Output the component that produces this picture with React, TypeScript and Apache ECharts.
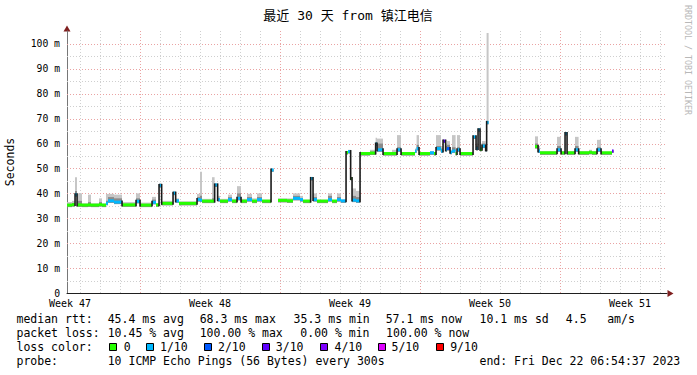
import React, { useEffect, useRef } from "react";
import * as echarts from "echarts";

const TITLE = "最近 30 天 from 镇江电信";
const WATERMARK = "RRDTOOL / TOBI OETIKER";
const Y_NAME = "Seconds";

// x axis: days since Monday of week 47
const X_MIN = 3.35;
const X_MAX = 33.35;
const Y_MIN = 0;
const Y_MAX = 105.2;

const Y_LABEL_VALUES = [0, 10, 20, 30, 40, 50, 60, 70, 80, 90, 100];
const Y_MINOR_GRID = [5, 15, 25, 35, 45, 55, 65, 75, 85, 95];
const Y_MAJOR_GRID = [10, 20, 30, 40, 50, 60, 70, 80, 90, 100];
const X_MINOR_GRID = [4, 5, 6, 8, 9, 10, 11, 12, 13, 15, 16, 17, 18, 19, 20, 22, 23, 24, 25, 26, 27, 29, 30, 31, 32, 33];
const X_MAJOR_GRID = [7, 14, 21, 28];
const WEEK_POSITIONS = [3.5, 10.5, 17.5, 24.5, 31.5];
const WEEK_LABELS = ["Week 47", "Week 48", "Week 49", "Week 50", "Week 51"];

// samples: time (day), median rtt (ms), smoke top (ms), dark smoke top (ms), loss index (null = no data)
const TIME = [
  3.35, 3.6, 3.75, 3.85, 4.1, 4.4, 4.55, 4.95, 5.1, 5.3, 5.4, 5.7, 6.1, 6.8, 7.0, 7.6, 7.8, 7.95, 8.08, 8.65,
  8.78, 8.95, 9.85, 10.0, 10.1, 10.6, 10.73, 10.88, 11.0, 11.4, 11.6, 11.85, 12.05, 12.35, 12.6, 12.85, 13.1, 13.55, 13.68, 13.9,
  14.35, 14.65, 15.0, 15.15, 15.53, 15.65, 15.85, 16.4, 16.6, 16.85, 17.05, 17.3, 17.4, 17.53, 17.6, 17.8, 18.0, 18.5, 18.78, 18.85,
  19.15, 19.6, 19.85, 20.05, 20.75, 20.83, 20.95, 21.5, 21.7, 21.8, 22.05, 22.15, 22.28, 22.35, 22.5, 22.6, 22.78, 22.85, 23.0, 23.65,
  23.8, 23.9, 24.0, 24.1, 24.28, 24.33, 24.43, 26.75, 26.9, 27.0, 27.85, 28.05, 28.25, 28.35, 28.75, 28.93, 29.45, 29.6, 29.85, 30.05,
  30.6, 30.68,
];
const MEDIAN = [
  35.3, 35.5, 39.5, 35.4, 35.3, 35.4, 35.3, 35.5, 35.3, 36.0, 37.0, 36.5, 35.4, 36.8, 35.3, 36.4, 35.4, 43.2, 36.0, 40.1,
  37.0, 36.0, 37.5, 37.3, 36.9, 36.9, 43.4, 37.5, 36.9, 37.5, 36.9, 38.0, 36.9, 37.5, 36.9, 37.5, 36.9, 49.4, null, 37.2,
  37.0, 38.0, 37.5, 36.9, 46.0, 37.5, 36.9, 37.5, 36.9, 37.5, 37.0, 56.4, 56.8, 46.0, 37.3, 37.0, 56.0, 56.2, 59.8, 57.5,
  56.0, 56.0, 57.5, 56.0, 57.0, 58.0, 56.0, 56.3, 56.0, 58.0, 57.0, 61.0, 57.5, 58.0, 56.5, 57.0, 56.0, 57.5, 56.0, 62.7,
  58.0, 65.5, 57.7, 59.0, 57.5, 68.5, null, 58.8, 57.0, 56.3, 57.5, 56.3, 64.0, 56.3, 57.5, 56.3, 56.5, 56.3, 57.5, 56.3,
  57.0, null,
];
const SMOKE_HIGH = [
  36.5, 37.0, 46.5, 40.0, 36.0, 39.5, 36.0, 38.0, 36.0, 39.8, 39.8, 39.5, 36.5, 40.0, 36.3, 38.6, 36.0, 44.2, 37.0, 41.0,
  38.0, 36.8, 39.8, 48.7, 37.8, 46.5, 44.0, 39.0, 37.8, 39.5, 37.8, 42.9, 37.8, 39.8, 38.0, 40.0, 37.5, 50.0, null, 38.0,
  38.0, 40.0, 39.0, 37.5, 46.5, 40.0, 37.5, 40.0, 37.5, 40.0, 37.5, 57.0, 57.5, 46.5, 42.0, 41.0, 56.5, 57.5, 62.3, 62.0,
  56.5, 57.5, 63.4, 56.5, 58.0, 63.4, 56.5, 57.0, 56.5, 63.4, 59.0, 61.5, 60.0, 61.0, 57.5, 63.4, 57.0, 63.4, 56.5, 63.0,
  60.0, 66.0, 60.0, 61.0, 59.0, 104.4, null, 62.9, 59.0, 57.0, 62.7, 57.0, 64.5, 57.0, 62.7, 57.0, 57.5, 57.0, 61.5, 56.8,
  57.5, null,
];
const SMOKE_MID = [
  35.8, 36.0, 41.0, 37.0, 35.6, 36.5, 35.5, 36.5, 35.5, 37.0, 38.5, 38.0, 35.8, 38.0, 35.6, 37.5, 35.6, 43.5, 36.3, 40.5,
  37.5, 36.2, 38.5, 39.0, 37.2, 38.0, 43.6, 38.0, 37.2, 38.5, 37.2, 40.0, 37.2, 38.5, 37.2, 38.5, 37.1, 49.6, null, 37.5,
  37.5, 39.0, 38.0, 37.1, 46.2, 38.5, 37.1, 39.0, 37.1, 38.5, 37.1, 56.6, 57.0, 46.2, 39.0, 38.5, 56.2, 56.8, 60.5, 60.0,
  56.2, 56.5, 58.5, 56.2, 57.3, 59.5, 56.2, 56.5, 56.2, 59.0, 58.0, 61.2, 59.0, 59.5, 57.0, 58.5, 56.5, 58.5, 56.2, 62.8,
  59.0, 65.8, 58.5, 60.0, 58.0, 69.0, null, 60.0, 58.0, 56.5, 59.0, 56.5, 64.2, 56.5, 59.0, 56.5, 57.0, 56.5, 58.5, 56.5,
  57.2, null,
];
const LOSS = [
  0, 0, 1, 0, 0, 0, 0, 0, 0, 1, 1, 1, 0, 1, 0, 1, 0, 1, 0, 1,
  1, 0, 1, 1, 0, 0, 1, 1, 0, 1, 0, 1, 0, 1, 0, 1, 0, 1, null, 0,
  0, 1, 1, 0, 1, 1, 0, 1, 0, 1, 1, 0, 1, 0, 1, 1, 0, 0, 1, 1,
  0, 0, 1, 0, 1, 1, 0, 1, 0, 1, 1, 3, 1, 2, 1, 1, 0, 1, 0, 1,
  1, 1, 0, 1, 1, 1, null, 0, 1, 0, 1, 0, 1, 0, 1, 0, 0, 0, 1, 0,
  3, null,
];

const LOSS_COLORS = ["#26ff00", "#00b8ff", "#0059ff", "#5e00ff", "#7e00ff", "#dd00ff", "#ff0000"];
const LOSS_LABELS = ["0", "1/10", "2/10", "3/10", "4/10", "5/10", "9/10"];

const RTT_LABEL = "median rtt:";
const RTT_STATS = ["45.4 ms avg", "68.3 ms max", "35.3 ms min", "57.1 ms now", "10.1 ms sd", "4.5", "am/s"];
const LOSS_LABEL = "packet loss:";
const LOSS_STATS = ["10.45 % avg", "100.00 % max", "0.00 % min", "100.00 % now"];
const COLOR_LABEL = "loss color:";
const PROBE_LABEL = "probe:";
const PROBE_TEXT = "10 ICMP Echo Pings (56 Bytes) every 300s";
const END_TEXT = "end: Fri Dec 22 06:54:37 2023";

const MONO = '"DejaVu Sans Mono", "Liberation Mono", monospace';

function buildRows() {
  const rows: number[][] = [];
  for (let i = 0; i < TIME.length - 1; i++) {
    const m = MEDIAN[i];
    if (m === null) continue;
    const prev = i > 0 && MEDIAN[i - 1] !== null ? (MEDIAN[i - 1] as number) : -1;
    rows.push([TIME[i], m, TIME[i + 1], SMOKE_HIGH[i] as number, SMOKE_MID[i] as number, LOSS[i] as number, prev]);
  }
  return rows;
}

function txt(x: number, y: number, text: string, opts: any = {}) {
  return {
    type: "text",
    x,
    y,
    rotation: opts.rotation || 0,
    silent: true,
    style: {
      text,
      fill: opts.fill || "#000",
      font: `${opts.size || 11.5}px ${opts.family || MONO}`,
      fontSize: opts.size || 11.5,
      fontFamily: opts.family || MONO,
      align: opts.align || "left",
      textAlign: opts.align || "left",
      verticalAlign: "middle",
      textVerticalAlign: "middle",
    },
  };
}

export default function App() {
  const ref = useRef<HTMLDivElement>(null);
  useEffect(() => {
    if (!ref.current) return;
    const chart = echarts.init(ref.current, undefined, { renderer: "svg" });

    const rows = buildRows();

    const gridV = [
      ...X_MINOR_GRID.map((v) => [v, 0]),
      ...X_MAJOR_GRID.map((v) => [v, 1]),
    ];
    const gridH = [
      ...Y_MINOR_GRID.map((v) => [X_MIN, v, 0]),
      ...Y_MAJOR_GRID.map((v) => [X_MIN, v, 1]),
    ];

    const rttX = [107.7, 199.7, 293.6, 385.7, 479.5, 565.8, 607.2];
    const lossX = [107.7, 199.7, 300.3, 386.1];
    const boxX = [109, 146, 203.7, 261.6, 320.3, 378, 436];
    const boxLabelX = [123.7, 160, 218, 275.8, 334.5, 391.5, 450.2];

    const graphics: any[] = [
      txt(348, 15, TITLE, { size: 13, align: "center", family: '"DejaVu Sans Mono", "Noto Sans CJK SC", monospace' }),
      txt(10, 162, Y_NAME, { size: 11.5, align: "center", rotation: Math.PI / 2 }),
      txt(687.5, 60, WATERMARK, { size: 8.3, align: "center", rotation: -Math.PI / 2, fill: "#b8b8b8" }),
      {
        type: "polygon",
        silent: true,
        shape: { points: [[667.5, 290], [673.5, 293.5], [667.5, 297]] },
        style: { fill: "#7f1f1f" },
      },
      {
        type: "polygon",
        silent: true,
        shape: { points: [[63.5, 31.5], [67, 25.5], [70.5, 31.5]] },
        style: { fill: "#7f1f1f" },
      },
      txt(16.5, 319.3, RTT_LABEL),
      ...RTT_STATS.map((s, i) => txt(rttX[i], 319.3, s)),
      txt(16.5, 333.3, LOSS_LABEL),
      ...LOSS_STATS.map((s, i) => txt(lossX[i], 333.3, s)),
      txt(16.5, 347.3, COLOR_LABEL),
      ...LOSS_LABELS.map((s, i) => ({
        type: "rect",
        silent: true,
        shape: { x: Math.round(boxX[i]) + 0.5, y: 343.5, width: 7, height: 7 },
        style: { fill: LOSS_COLORS[i], stroke: "#000", lineWidth: 1 },
      })),
      ...LOSS_LABELS.map((s, i) => txt(boxLabelX[i], 347.3, s)),
      txt(16.5, 361, PROBE_LABEL),
      txt(107.7, 361, PROBE_TEXT),
      txt(479.5, 361, END_TEXT),
    ];

    const option: any = {
      animation: false,
      backgroundColor: "#ffffff",
      grid: { left: 67, right: 30, top: 31, bottom: 82, containLabel: false },
      xAxis: {
        type: "value",
        min: X_MIN,
        max: X_MAX,
        axisLine: { show: true, lineStyle: { color: "#1f1f1f", width: 1 } },
        axisTick: { show: false },
        splitLine: { show: false },
        axisLabel: {
          customValues: WEEK_POSITIONS,
          margin: 5,
          lineHeight: 10,
          color: "#000",
          fontSize: 10,
          fontFamily: MONO,
          formatter: (v: number) => {
            const idx = WEEK_POSITIONS.findIndex((p) => Math.abs(p - v) < 0.01);
            return idx >= 0 ? WEEK_LABELS[idx] : "";
          },
        },
      },
      yAxis: {
        type: "value",
        min: Y_MIN,
        max: Y_MAX,
        axisLine: { show: true, lineStyle: { color: "#777", width: 1 } },
        axisTick: { show: false },
        splitLine: { show: false },
        axisLabel: {
          customValues: Y_LABEL_VALUES,
          margin: 7,
          lineHeight: 9,
          color: "#000",
          fontSize: 9.75,
          fontFamily: MONO,
          formatter: (v: number) => (v === 0 ? "0" : `${v} m`),
        },
      },
      series: [
        {
          type: "custom",
          name: "vgrid",
          silent: true,
          z: 1,
          data: gridV,
          encode: { x: 0 },
          renderItem: (params: any, api: any) => {
            const v = api.value(0);
            const major = api.value(1);
            const cs = params.coordSys;
            const x = Math.round(api.coord([v, 0])[0]) + 0.5;
            return {
              type: "line",
              shape: { x1: x, y1: cs.y, x2: x, y2: cs.y + cs.height },
              style: { stroke: major ? "#eaa3a3" : "#cfcfcf", lineWidth: 1, lineDash: [1, 2] },
            };
          },
        },
        {
          type: "custom",
          name: "hgrid",
          silent: true,
          z: 1,
          data: gridH,
          encode: { x: 0, y: 1 },
          renderItem: (params: any, api: any) => {
            const v = api.value(1);
            const major = api.value(2);
            const cs = params.coordSys;
            const y = Math.round(api.coord([X_MIN, v])[1]) + 0.5;
            return {
              type: "line",
              shape: { x1: cs.x, y1: y, x2: cs.x + cs.width, y2: y },
              style: { stroke: major ? "#eaa3a3" : "#cfcfcf", lineWidth: 1, lineDash: [1, 2] },
            };
          },
        },
        {
          type: "custom",
          name: "median rtt",
          z: 3,
          clip: true,
          data: rows,
          encode: { x: 0, y: 1 },
          renderItem: (params: any, api: any) => {
            const t0 = api.value(0);
            const med = api.value(1);
            const t1 = api.value(2);
            const hi = api.value(3);
            const mid = api.value(4);
            const loss = api.value(5);
            const prev = api.value(6);
            const p0 = api.coord([t0, med]);
            const x0 = p0[0];
            const yMed = p0[1];
            const x1 = api.coord([t1, med])[0];
            const yHi = api.coord([t0, hi])[1];
            const yMid = api.coord([t0, mid])[1];
            const yLo = api.coord([t0, med - 0.8])[1];
            const w = x1 - x0;
            const children: any[] = [];
            if (hi > med) {
              children.push({
                type: "rect",
                shape: { x: x0, y: yHi, width: w, height: yLo - yHi },
                style: { fill: "#c6c6c6" },
              });
            }
            if (mid > med) {
              children.push({
                type: "rect",
                shape: { x: x0, y: yMid, width: w, height: yLo - yMid },
                style: { fill: "#8a8a8a" },
              });
            }
            children.push({
              type: "rect",
              shape: { x: x0, y: yMed - 1.5, width: w, height: 3 },
              style: { fill: LOSS_COLORS[loss] },
            });
            if (prev >= 0 && Math.abs(prev - med) > 1) {
              const yPrev = api.coord([t0, prev])[1];
              children.push({
                type: "rect",
                shape: { x: x0 - 0.75, y: Math.min(yPrev, yMed) - 1.5, width: 1.6, height: Math.abs(yPrev - yMed) + 3 },
                style: { fill: "#1a1a1a" },
              });
            }
            return { type: "group", children };
          },
        },
      ],
      graphic: graphics,
    };

    chart.setOption(option);
    return () => chart.dispose();
  }, []);

  return (
    <div
      ref={ref}
      style={{ position: "fixed", left: 0, top: 0, width: 697, height: 375, background: "#fff" }}
    />
  );
}
